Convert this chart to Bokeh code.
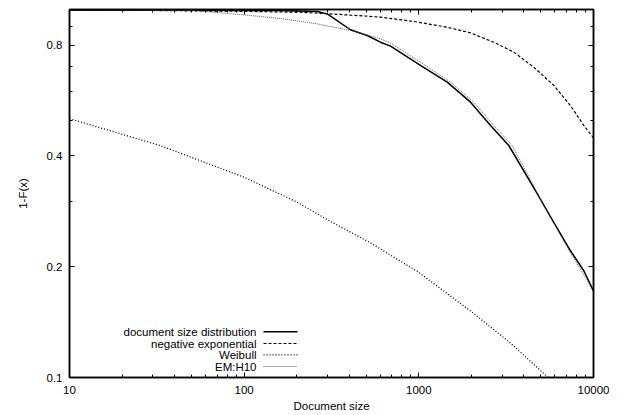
from bokeh.plotting import figure
from bokeh.models import Range1d, LogAxis, FixedTicker, Label, Arrow
from bokeh.embed import file_html
from bokeh.resources import INLINE

# ---- data ----
doc_x = [10, 50, 150, 262, 299, 406, 506, 603, 689, 1021, 1454, 1977, 2574, 3273, 4762, 5675, 7384, 8800, 10000]
doc_y = [0.996, 0.995, 0.993, 0.988, 0.973, 0.881, 0.850, 0.815, 0.795, 0.705, 0.635, 0.560, 0.484, 0.427, 0.316, 0.273, 0.221, 0.195, 0.172]

exp_x = [10, 109, 210, 299, 506, 603, 935, 1454, 1977, 2686, 3498, 4550, 5925, 7384, 8800, 10000]
exp_y = [0.999, 0.988, 0.983, 0.974, 0.959, 0.953, 0.928, 0.895, 0.864, 0.815, 0.766, 0.697, 0.622, 0.548, 0.484, 0.448]

wei_x = [10, 33, 100, 200, 310, 530, 1000, 2000, 3350, 5500, 5700]
wei_y = [0.505, 0.427, 0.350, 0.300, 0.266, 0.232, 0.193, 0.151, 0.124, 0.100, 0.098]

em_x = [10, 51, 109, 168, 262, 406, 506, 603, 689, 1021, 1518, 2063, 2686, 3423, 4762, 5675, 7384, 9200, 10000]
em_y = [0.997, 0.994, 0.963, 0.943, 0.914, 0.877, 0.853, 0.833, 0.810, 0.719, 0.635, 0.560, 0.484, 0.427, 0.318, 0.272, 0.218, 0.184, 0.170]

x_ticks = [10, 100, 1000, 10000]
x_tick_labels = ["10", "100", "1000", "10000"]
x_minor = [20, 30, 40, 50, 60, 70, 80, 90, 200, 300, 400, 500, 600, 700, 800, 900,
           2000, 3000, 4000, 5000, 6000, 7000, 8000, 9000]
y_ticks = [0.1, 0.2, 0.4, 0.8]
y_tick_labels = ["0.1", "0.2", "0.4", "0.8"]
y_minor = [0.3, 0.5, 0.6, 0.7, 0.9]

legend_labels = ["document size distribution", "negative exponential", "Weibull", "EM:H10"]

FONT = "Liberation Sans"
FS = "11.5px"

p = figure(width=632, height=415, x_axis_type="log", y_axis_type="log",
           x_range=Range1d(10, 10000), y_range=Range1d(0.1, 1.0),
           output_backend="svg", toolbar_location=None,
           min_border_left=69, min_border_right=39, min_border_top=9, min_border_bottom=38)
p.grid.visible = False
p.outline_line_color = "black"
p.outline_line_width = 1.5
p.background_fill_color = "white"
p.border_fill_color = "white"

xt = FixedTicker(ticks=x_ticks, minor_ticks=x_minor)
yt = FixedTicker(ticks=y_ticks, minor_ticks=y_minor)

def style(ax, labels, overrides, hide=False):
    ax.ticker = labels
    ax.major_label_overrides = overrides
    ax.major_tick_in = 5
    ax.major_tick_out = 0
    ax.minor_tick_in = 3
    ax.minor_tick_out = 0
    ax.axis_line_color = "black"
    ax.axis_line_width = 1.5
    ax.major_tick_line_color = "black"
    ax.minor_tick_line_color = "black"
    ax.major_label_text_font = FONT
    ax.major_label_text_font_size = FS
    ax.major_label_text_color = "black"
    ax.axis_label_text_font = FONT
    ax.axis_label_text_font_size = FS
    ax.axis_label_text_font_style = "normal"
    ax.axis_label_text_color = "black"
    if hide:
        ax.major_label_text_font_size = "0px"
        ax.major_label_standoff = 0

xo = {v: s for v, s in zip(x_ticks, x_tick_labels)}
yo = {v: s for v, s in zip(y_ticks, y_tick_labels)}

style(p.xaxis[0], xt, xo)
style(p.yaxis[0], yt, yo)
p.xaxis[0].axis_label = "Document size"
p.yaxis[0].axis_label = "1-F(x)"
p.xaxis[0].major_label_standoff = 8
p.xaxis[0].axis_label_standoff = 3
p.yaxis[0].major_label_standoff = 7
p.yaxis[0].axis_label_standoff = 15

top = LogAxis()
style(top, xt, {v: "" for v in x_ticks}, hide=True)
right = LogAxis()
style(right, yt, {v: "" for v in y_ticks}, hide=True)
p.add_layout(top, "above")
p.add_layout(right, "right")

p.line(doc_x, doc_y, line_color="black", line_width=1.5, line_join="round")
p.line(exp_x, exp_y, line_color="black", line_width=1.2, line_dash="3 2")
p.line(wei_x, wei_y, line_color="black", line_width=1.3, line_dash="1 2")
p.line(em_x, em_y, line_color="#555555", line_width=1.0, line_dash="1 1")

styles = [("black", 1.5, "solid"), ("black", 1.2, "3 2"),
          ("black", 1.3, "1 2"), ("#555555", 1.0, "1 1")]
rows = [45.7, 34.0, 22.7, 11.0]
for lab, (c, w, d), yy in zip(legend_labels, styles, rows):
    p.add_layout(Label(x=187, y=yy, x_units="screen", y_units="screen", text=lab,
                       text_align="right", text_baseline="middle",
                       text_font=FONT, text_font_size=FS, text_color="black"))
    p.add_layout(Arrow(end=None, x_start=194, y_start=yy, x_end=228, y_end=yy,
                       start_units="screen", end_units="screen",
                       line_color=c, line_width=w, line_dash=d))

open("out.html", "w").write(file_html(p, INLINE))
